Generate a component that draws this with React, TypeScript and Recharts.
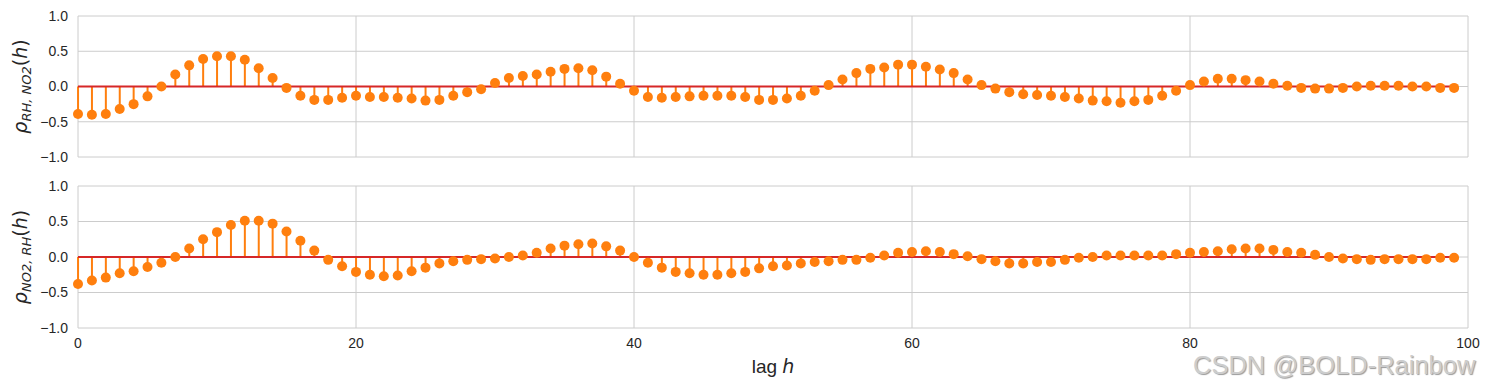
import React from "react";
import { Bar, CartesianGrid, ComposedChart, ReferenceLine, Scatter, XAxis, YAxis } from "recharts";

const ORANGE = "#ff7f0e";
const RED = "#d62728";
const GRID = "#cccccc";
const TEXT = "#262626";

// lags 0..99
const lags = [
  0, 1, 2, 3, 4, 5, 6, 7, 8, 9,
  10, 11, 12, 13, 14, 15, 16, 17, 18, 19,
  20, 21, 22, 23, 24, 25, 26, 27, 28, 29,
  30, 31, 32, 33, 34, 35, 36, 37, 38, 39,
  40, 41, 42, 43, 44, 45, 46, 47, 48, 49,
  50, 51, 52, 53, 54, 55, 56, 57, 58, 59,
  60, 61, 62, 63, 64, 65, 66, 67, 68, 69,
  70, 71, 72, 73, 74, 75, 76, 77, 78, 79,
  80, 81, 82, 83, 84, 85, 86, 87, 88, 89,
  90, 91, 92, 93, 94, 95, 96, 97, 98, 99,
];

// rho_{RH,NO2}(h)
const rhNo2 = [
  -0.39, -0.40, -0.39, -0.32, -0.25, -0.14, 0.00, 0.17, 0.30, 0.39,
  0.43, 0.43, 0.38, 0.26, 0.12, -0.02, -0.13, -0.19, -0.19, -0.16,
  -0.13, -0.15, -0.15, -0.16, -0.17, -0.20, -0.19, -0.13, -0.08, -0.04,
  0.05, 0.12, 0.15, 0.17, 0.21, 0.25, 0.26, 0.23, 0.14, 0.04,
  -0.06, -0.15, -0.16, -0.15, -0.14, -0.13, -0.13, -0.13, -0.15, -0.19,
  -0.19, -0.17, -0.13, -0.06, 0.02, 0.10, 0.19, 0.25, 0.27, 0.31,
  0.31, 0.28, 0.24, 0.19, 0.10, 0.02, -0.03, -0.08, -0.11, -0.12,
  -0.13, -0.15, -0.17, -0.20, -0.21, -0.23, -0.21, -0.19, -0.13, -0.06,
  0.02, 0.07, 0.11, 0.11, 0.09, 0.07, 0.04, 0.01, -0.02, -0.03,
  -0.03, -0.02, 0.00, 0.01, 0.01, 0.01, 0.00, 0.00, -0.02, -0.02,
];

// rho_{NO2,RH}(h)
const no2Rh = [
  -0.38, -0.33, -0.29, -0.23, -0.20, -0.14, -0.08, 0.00, 0.12, 0.25,
  0.35, 0.45, 0.51, 0.51, 0.47, 0.36, 0.23, 0.09, -0.04, -0.13,
  -0.21, -0.25, -0.27, -0.26, -0.20, -0.15, -0.09, -0.06, -0.04, -0.03,
  -0.02, 0.00, 0.02, 0.06, 0.12, 0.16, 0.18, 0.19, 0.15, 0.09,
  0.00, -0.08, -0.15, -0.21, -0.23, -0.25, -0.25, -0.23, -0.21, -0.16,
  -0.13, -0.12, -0.09, -0.07, -0.06, -0.04, -0.04, -0.01, 0.02, 0.06,
  0.07, 0.08, 0.07, 0.04, 0.01, -0.03, -0.06, -0.09, -0.09, -0.07,
  -0.07, -0.04, -0.01, 0.00, 0.02, 0.02, 0.02, 0.02, 0.02, 0.04,
  0.06, 0.07, 0.08, 0.11, 0.12, 0.12, 0.10, 0.07, 0.06, 0.03,
  0.00, -0.02, -0.03, -0.04, -0.03, -0.03, -0.03, -0.03, -0.01, -0.01,
];

const xTicks = [0, 20, 40, 60, 80, 100];
const yTicks = [-1, -0.5, 0, 0.5, 1];

const fmtY = (v: number) => v.toFixed(1).replace("-", "\u2212");

const Dot = (props: any) => {
  const { cx, cy } = props;
  if (cx == null || cy == null) return null;
  return <circle cx={cx} cy={cy} r={5} fill={ORANGE} />;
};

const makeYLabel = (sub: string) => (props: any) => {
  const vb = props.viewBox || {};
  const cx = 27;
  const cy = (vb.y ?? 0) + (vb.height ?? 0) / 2;
  return (
    <text
      x={cx}
      y={cy}
      transform={`rotate(-90, ${cx}, ${cy})`}
      textAnchor="middle"
      fill={TEXT}
      fontFamily="DejaVu Sans"
      fontSize={19}
    >
      <tspan fontStyle="italic">ρ</tspan>
      <tspan fontStyle="italic" fontSize={13} dy={4}>{sub}</tspan>
      <tspan dy={-4}>(</tspan>
      <tspan fontStyle="italic">h</tspan>
      <tspan>)</tspan>
    </text>
  );
};

// vertical grid lines at the x ticks, placed through the axis scale
const vGrid = (p: any) => {
  const scale = p?.xAxis?.scale;
  if (typeof scale === "function") return xTicks.map((t) => scale(t));
  if (scale && typeof scale.map === "function") return xTicks.map((t) => scale.map(t));
  return [];
};

type PanelProps = { values: number[]; sub: string; top: number; showX: boolean };

const Panel: React.FC<PanelProps> = ({ values, sub, top, showX }) => {
  const data = lags.map((lag, i) => ({ lag, v: values[i] }));
  return (
    <div style={{ position: "absolute", left: 0, top }}>
      <ComposedChart
        width={1489}
        height={showX ? 220 : 170}
        data={data}
        margin={{ top: 16, right: 21, bottom: showX ? 32 : 13, left: 0 }}
      >
        <CartesianGrid stroke={GRID} strokeWidth={1} verticalCoordinatesGenerator={vGrid} />
        <XAxis
          dataKey="lag"
          type="number"
          domain={[0, 100]}
          ticks={xTicks}
          axisLine={false}
          tickLine={false}
          tickSize={0}
          tickMargin={10}
          height={showX ? 30 : 0}
          tick={showX ? { fill: TEXT, fontSize: 14, fontFamily: "Liberation Sans, Arial" } : false}
        />
        <YAxis
          type="number"
          domain={[-1, 1]}
          ticks={yTicks}
          width={78}
          axisLine={false}
          tickLine={false}
          tickSize={0}
          tickMargin={10}
          tickFormatter={fmtY}
          tick={{ fill: TEXT, fontSize: 14, fontFamily: "Liberation Sans, Arial" }}
          label={makeYLabel(sub)}
        />
        <Bar dataKey="v" barSize={2} fill={ORANGE} isAnimationActive={false} />
        <ReferenceLine
          segment={[{ x: lags[0], y: 0 }, { x: lags[lags.length - 1], y: 0 }]}
          stroke={RED}
          strokeWidth={2}
        />
        <Scatter dataKey="v" fill={ORANGE} shape={Dot} isAnimationActive={false} />
      </ComposedChart>
    </div>
  );
};

export default function App() {
  return (
    <div style={{ position: "absolute", left: 0, top: 0, width: 1489, height: 390, background: "#fff" }}>
      <Panel values={rhNo2} sub="RH, NO2" top={0} showX={false} />
      <Panel values={no2Rh} sub="NO2, RH" top={170} showX={true} />
      <svg width={1489} height={390} style={{ position: "absolute", left: 0, top: 0, pointerEvents: "none" }}>
        <text x={773} y={373} textAnchor="middle" fill={TEXT} fontSize={19} fontFamily="Liberation Sans, Arial">
          lag <tspan fontStyle="italic" fontFamily="DejaVu Sans">h</tspan>
        </text>
        <text
          x={1193}
          y={374}
          fill="#cdcdcd"
          fontSize={25.5}
          fontFamily="Liberation Sans, Arial"
          style={{ textShadow: "1px 1px 1px #9a9a9a" }}
        >
          CSDN @BOLD-Rainbow
        </text>
      </svg>
    </div>
  );
}
